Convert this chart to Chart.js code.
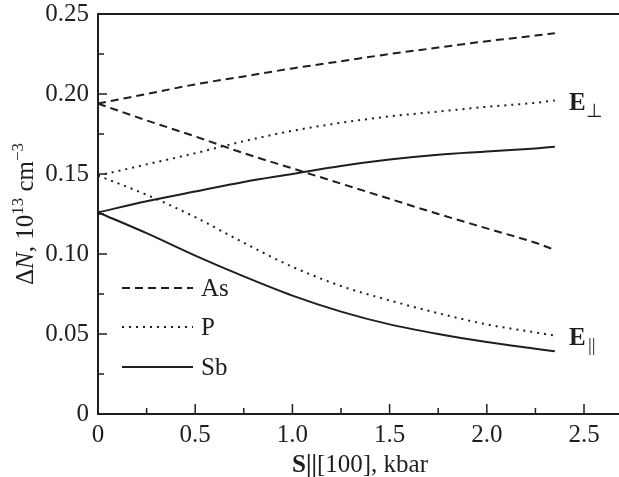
<!DOCTYPE html>
<html>
<head>
<meta charset="utf-8">
<script src="https://cdn.jsdelivr.net/npm/chart.js@4.4.1/dist/chart.umd.min.js"></script>
<style>
  html, body { margin: 0; padding: 0; background: #fff; }
  #wrap { width: 619px; height: 477px; }
</style>
</head>
<body>
<div id="wrap"><canvas id="chart" width="619" height="477"></canvas></div>
<script>
// stress along [100], kbar
const stress = [0, 0.25, 0.5, 0.75, 1.0, 1.25, 1.5, 1.75, 2.0, 2.25, 2.35];

// ΔN, 10^13 cm^-3 — upper branch (E⊥) and lower branch (E∥)
const asPerp = [0.194, 0.200, 0.206, 0.211, 0.216, 0.2205, 0.225, 0.229, 0.233, 0.2365, 0.238];
const asPar  = [0.194, 0.1835, 0.1735, 0.163, 0.1535, 0.144, 0.1345, 0.125, 0.116, 0.107, 0.1025];
const pPerp  = [0.149, 0.156, 0.163, 0.1705, 0.177, 0.182, 0.186, 0.189, 0.192, 0.1945, 0.196];
const pPar   = [0.149, 0.137, 0.123, 0.107, 0.092, 0.080, 0.071, 0.063, 0.056, 0.051, 0.049];
const sbPerp = [0.126, 0.133, 0.139, 0.145, 0.150, 0.155, 0.159, 0.162, 0.164, 0.166, 0.167];
const sbPar  = [0.126, 0.113, 0.099, 0.086, 0.074, 0.064, 0.056, 0.050, 0.045, 0.0408, 0.0392];

const seriesNames = ['As', 'P', 'Sb'];
const xTicks = [0, 0.5, 1.0, 1.5, 2.0, 2.5];
const xTickLabels = ['0', '0.5', '1.0', '1.5', '2.0', '2.5'];
const yTicks = [0, 0.05, 0.10, 0.15, 0.20, 0.25];
const yTickLabels = ['0', '0.05', '0.10', '0.15', '0.20', '0.25'];

const INK = '#1e1e1e';
const FONT = '"Liberation Serif", "Times New Roman", Times, serif';
const dashes = { As: [8, 5], P: [2, 5], Sb: [] };

function pts(vals) {
  return stress.map((s, i) => ({ x: s, y: vals[i] }));
}

function line(name, vals) {
  return {
    label: name,
    data: pts(vals),
    borderColor: INK,
    borderWidth: 2,
    borderDash: dashes[name],
    pointRadius: 0,
    fill: false,
    cubicInterpolationMode: 'monotone',
  };
}

const datasets = [
  line('As', asPerp), line('As', asPar),
  line('P', pPerp), line('P', pPar),
  line('Sb', sbPerp), line('Sb', sbPar),
];

// ticks inward, top frame line, legend, labels and axis titles
const overlay = {
  id: 'overlay',
  afterDraw(chart) {
    const { ctx, chartArea: a, scales: { x, y } } = chart;
    ctx.save();
    ctx.strokeStyle = INK;

    ctx.lineWidth = 2;
    ctx.beginPath();
    ctx.moveTo(a.left - 1, a.top);
    ctx.lineTo(chart.width, a.top);
    ctx.stroke();

    ctx.lineWidth = 1.5;
    for (let i = 1; i * 0.25 <= x.max; i++) {
      const px = x.getPixelForValue(i * 0.25);
      const len = i % 2 === 0 ? 10 : 6;
      ctx.beginPath();
      ctx.moveTo(px, a.bottom);
      ctx.lineTo(px, a.bottom - len);
      ctx.stroke();
    }
    for (let i = 1; i < 10; i++) {
      const py = y.getPixelForValue(i * 0.025);
      const len = i % 2 === 0 ? 9 : 6;
      ctx.beginPath();
      ctx.moveTo(a.left, py);
      ctx.lineTo(a.left + len, py);
      ctx.stroke();
    }

    // legend
    ctx.font = '25px ' + FONT;
    ctx.fillStyle = INK;
    ctx.textBaseline = 'middle';
    const legendY = [288, 327, 367];
    seriesNames.forEach((name, i) => {
      ctx.lineWidth = 2;
      ctx.setLineDash(dashes[name]);
      ctx.beginPath();
      ctx.moveTo(122, legendY[i]);
      ctx.lineTo(193, legendY[i]);
      ctx.stroke();
      ctx.setLineDash([]);
      ctx.fillText(name, 201, legendY[i] + 1);
    });

    // E labels
    ctx.textBaseline = 'alphabetic';
    ctx.font = 'bold 25px ' + FONT;
    ctx.fillText('E', 569, 110);
    ctx.fillText('E', 569, 345);
    ctx.font = '19px ' + FONT;
    ctx.fillText('\u22A5', 586, 117);
    ctx.fillText('||', 588, 351);

    // x title
    const xParts = [
      ['bold 25px ' + FONT, 'S', 0],
      ['bold 25px ' + FONT, '||', 0],
      ['25px ' + FONT, '[100], kbar', 0],
    ];
    drawParts(ctx, xParts, 360, 472);

    // y title (rotated)
    ctx.translate(33, 214);
    ctx.rotate(-Math.PI / 2);
    const yParts = [
      ['25px ' + FONT, '\u0394', 0],
      ['italic 25px ' + FONT, 'N', 0],
      ['25px ' + FONT, ', 10', 0],
      ['17px ' + FONT, '13', -10],
      ['25px ' + FONT, ' cm', 0],
      ['17px ' + FONT, '\u22123', -10],
    ];
    drawParts(ctx, yParts, 0, 0);
    ctx.restore();
  },
};

function drawParts(ctx, parts, cx, baseY) {
  let total = 0;
  parts.forEach(p => { ctx.font = p[0]; total += ctx.measureText(p[1]).width; });
  let px = cx - total / 2;
  ctx.textAlign = 'left';
  ctx.textBaseline = 'alphabetic';
  parts.forEach(p => {
    ctx.font = p[0];
    ctx.fillText(p[1], px, baseY + p[2]);
    px += ctx.measureText(p[1]).width;
  });
}

new Chart(document.getElementById('chart'), {
  type: 'line',
  data: { datasets },
  options: {
    responsive: false,
    animation: false,
    layout: { padding: { top: 14, right: 0, left: 0, bottom: 0 } },
    plugins: { legend: { display: false }, tooltip: { enabled: false } },
    scales: {
      x: {
        type: 'linear',
        min: 0,
        max: 2.68,
        afterFit: s => { s.height = 63; s.paddingLeft = 0; s.paddingRight = 0; },
        afterBuildTicks: s => { s.ticks = xTicks.map(v => ({ value: v })); },
        grid: { display: false, tickLength: 0 },
        border: { display: true, color: INK, width: 2 },
        ticks: {
          padding: 6,
          color: INK,
          maxRotation: 0,
          autoSkip: false,
          font: { family: FONT, size: 25 },
          callback: v => xTickLabels[xTicks.indexOf(v)],
        },
      },
      y: {
        min: 0,
        max: 0.25,
        afterFit: s => { s.width = 98; s.paddingTop = 0; s.paddingBottom = 0; },
        afterBuildTicks: s => { s.ticks = yTicks.map(v => ({ value: v })); },
        grid: { display: false, tickLength: 0 },
        border: { display: true, color: INK, width: 2 },
        ticks: {
          padding: 9,
          color: INK,
          autoSkip: false,
          font: { family: FONT, size: 25 },
          callback: v => yTickLabels[yTicks.indexOf(v)],
        },
      },
    },
  },
  plugins: [overlay],
});
</script>
</body>
</html>
